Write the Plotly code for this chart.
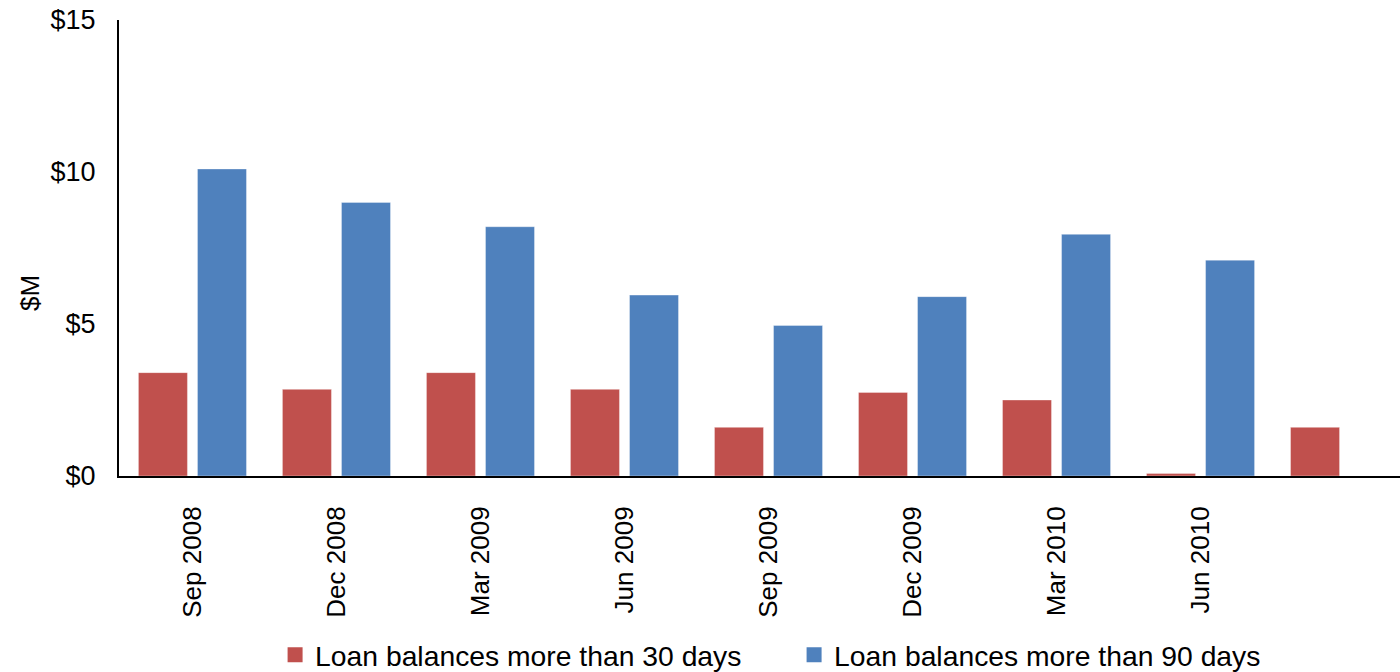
import plotly.graph_objects as go

# Quarter labels (the final quarter carries no label on the axis)
quarters = ["Sep 2008", "Dec 2008", "Mar 2009", "Jun 2009", "Sep 2009",
            "Dec 2009", "Mar 2010", "Jun 2010", ""]

# Loan balances in $M
over_30_days = [3.4, 2.85, 3.4, 2.85, 1.6, 2.75, 2.5, 0.08, 1.6]
over_90_days = [10.1, 9.0, 8.2, 5.95, 4.95, 5.9, 7.95, 7.1, None]

y_ticks = [0, 5, 10, 15]
y_tick_text = ["$0", "$5", "$10", "$15"]

RED = "#C0504D"
BLUE = "#4F81BD"
FONT = "Liberation Sans, Arial, sans-serif"

x_pos = list(range(len(quarters)))

fig = go.Figure()
fig.add_trace(go.Bar(
    x=x_pos, y=over_30_days, name="Loan balances more than 30 days",
    marker=dict(color=RED, line=dict(color="rgba(255,255,255,0.35)", width=1)),
    showlegend=False,
))
fig.add_trace(go.Bar(
    x=x_pos, y=over_90_days, name="Loan balances more than 90 days",
    marker=dict(color=BLUE, line=dict(color="rgba(255,255,255,0.35)", width=1)),
    showlegend=False,
))

# Legend entries with square swatches
for name, color in [("Loan balances more than 30 days", RED),
                    ("Loan balances more than 90 days", BLUE)]:
    fig.add_trace(go.Scatter(
        x=[None], y=[None], mode="markers", name=name,
        marker=dict(symbol="square", size=15, color=color),
    ))

fig.update_layout(
    width=1400, height=672,
    margin=dict(l=119, r=0, t=20, b=196, autoexpand=False),
    paper_bgcolor="white", plot_bgcolor="white",
    font=dict(family=FONT, color="#000000", size=26),
    barmode="group", bargap=0.18, bargroupgap=0.17,
    legend=dict(
        orientation="h", x=0.527, xanchor="center", y=-0.392, yanchor="middle",
        font=dict(size=28.3), itemwidth=30, tracegroupgap=0,
        entrywidth=474, entrywidthmode="pixels",
    ),
    xaxis=dict(
        range=[-0.51, 8.385],
        tickmode="array", tickvals=x_pos, ticktext=quarters,
        tickangle=-90, tickfont=dict(size=26),
        showline=True, linecolor="#000000", linewidth=2,
        showgrid=False, zeroline=False, ticks="",
        ticklabelstandoff=18,
    ),
    yaxis=dict(
        range=[0, 15],
        tickmode="array", tickvals=y_ticks, ticktext=y_tick_text,
        tickfont=dict(size=27),
        showline=True, linecolor="#000000", linewidth=2,
        showgrid=False, zeroline=False, ticks="",
        ticklabelstandoff=16,
    ),
    annotations=[dict(
        text="$M", textangle=-90, xref="paper", yref="paper",
        x=(30 - 119) / 1281, y=(476 - 293) / 456,
        xanchor="center", yanchor="middle", showarrow=False,
        font=dict(size=26),
    )],
)

fig.write_html("out.html")
